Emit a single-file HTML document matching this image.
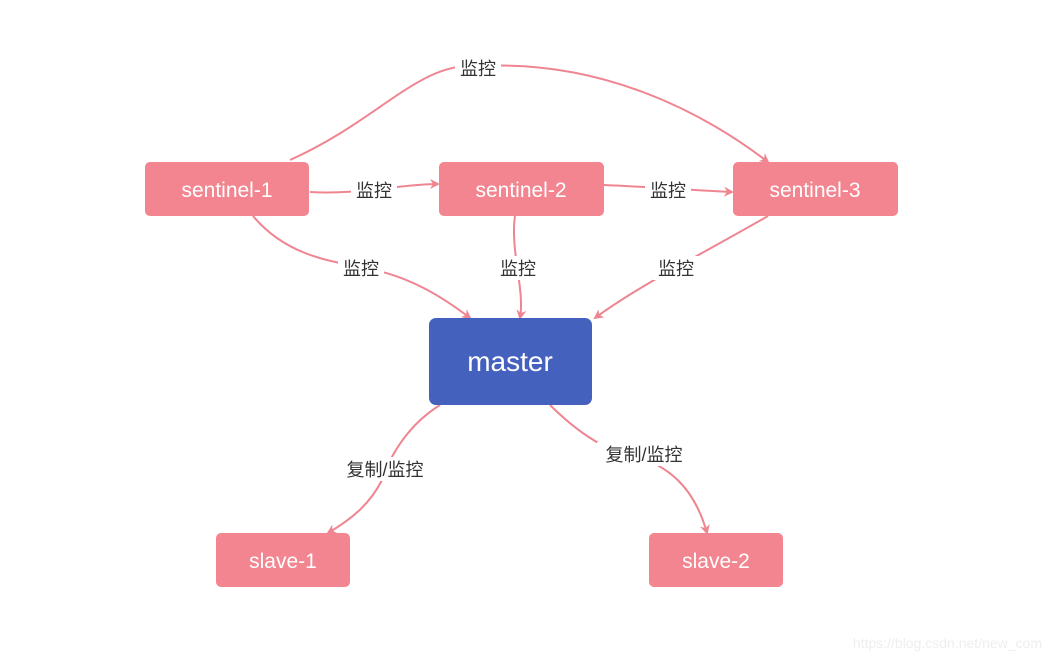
<!DOCTYPE html>
<html><head><meta charset="utf-8"><style>
html,body{margin:0;padding:0;background:#fff;width:1052px;height:662px;overflow:hidden}
svg text{font-family:"Liberation Sans","Noto Sans CJK SC",sans-serif}
</style></head><body>
<svg width="1052" height="662" viewBox="0 0 1052 662" xmlns="http://www.w3.org/2000/svg">
<defs>
<marker id="a" markerWidth="10" markerHeight="10" refX="8" refY="5" orient="auto" markerUnits="userSpaceOnUse">
<path d="M0,0 L10,5 L0,10 L3,5 Z" fill="#EE8591"/></marker>
</defs>
<g fill="none" stroke="#EE8591" stroke-width="2" marker-end="url(#a)">
<path d="M290,160 C380,120 420,60 480,66 C600,60 700,110 768,162"/>
<path d="M310,192 C360,195 400,184 438,184"/>
<path d="M604,185 C650,187 690,190 732,192"/>
<path d="M253,216 C290,260 340,262 375,270 C410,278 440,295 470,318"/>
<path d="M515,216 C510,250 525,290 520,318"/>
<path d="M768,216 C700,255 640,285 595,318"/>
<path d="M440,405 C400,430 385,470 383,478 C370,505 350,520 328,533"/>
<path d="M550,405 C570,425 590,440 612,450 C670,460 695,490 707,533"/>
</g>
<g fill="#fff">
<rect x="455" y="56" width="46" height="24"/>
<rect x="351" y="178" width="46" height="24"/>
<rect x="645" y="178" width="46" height="24"/>
<rect x="338" y="256" width="46" height="24"/>
<rect x="495" y="256" width="46" height="24"/>
<rect x="653" y="256" width="46" height="24"/>
<rect x="338" y="457" width="94" height="24"/>
<rect x="597" y="442" width="94" height="24"/>
</g>
<g font-size="18" fill="#333" text-anchor="middle">
<text x="478" y="75">监控</text>
<text x="374" y="197">监控</text>
<text x="668" y="197">监控</text>
<text x="361" y="275">监控</text>
<text x="518" y="275">监控</text>
<text x="676" y="275">监控</text>
<text x="385" y="476">复制/监控</text>
<text x="644" y="461">复制/监控</text>
</g>
<g fill="#F2858F">
<rect x="145" y="162" width="164" height="54" rx="5"/>
<rect x="439" y="162" width="165" height="54" rx="5"/>
<rect x="733" y="162" width="165" height="54" rx="5"/>
<rect x="216" y="533" width="134" height="54" rx="5"/>
<rect x="649" y="533" width="134" height="54" rx="5"/>
</g>
<rect x="429" y="318" width="163" height="87" rx="7" fill="#4361BD"/>
<g fill="#fff" text-anchor="middle" font-size="21">
<text x="227" y="197">sentinel-1</text>
<text x="521" y="197">sentinel-2</text>
<text x="815" y="197">sentinel-3</text>
<text x="283" y="568">slave-1</text>
<text x="716" y="568">slave-2</text>
<text x="510" y="371" font-size="28">master</text>
</g>
<text x="1042" y="648" font-size="14" fill="#eee" text-anchor="end">https://blog.csdn.net/new_com</text>
</svg>
</body></html>
